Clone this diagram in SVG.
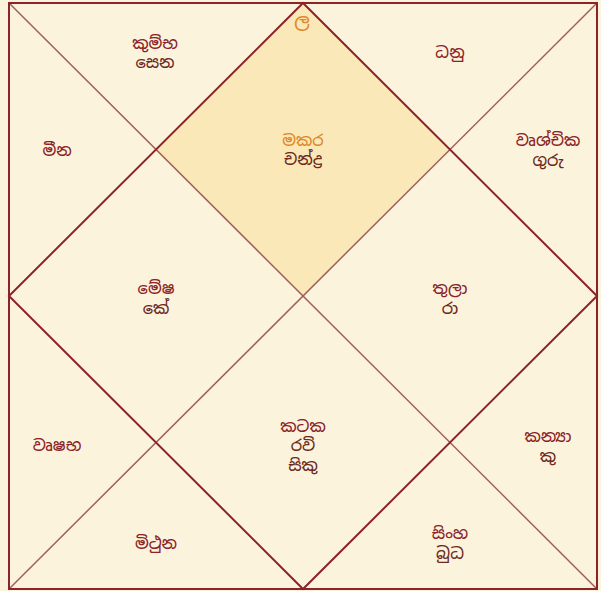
<svg xmlns="http://www.w3.org/2000/svg" width="601" height="591" viewBox="0 0 601 591">
<style>
.bg{fill:#fcf3dd}
.hl{fill:#fae8b8}
.main{stroke:#8b2328;stroke-width:2;fill:none}
.diag{stroke:#a0605a;stroke-width:1.5;fill:none}
text{font-family:"Noto Sans Sinhala","Noto Serif Sinhala","Noto Sans",sans-serif;font-size:16px;text-anchor:middle;dominant-baseline:central;fill:#8b2328;font-weight:500}
.sign{fill:#8b2328}
.sel{fill:#e0892a}
.lg{font-size:18px}
.planet{fill:#6b2a1c}
</style>
<rect class="bg" x="0" y="0" width="601" height="591"/>
<g id="house-highlight">
<polygon class="hl" points="303,3 450,149.5 303,296 156,149.5"/>
</g>
<g id="connectors">
<line class="diag" x1="9" y1="3" x2="597" y2="589"/>
<line class="diag" x1="597" y1="3" x2="9" y2="589"/>
<polygon class="main" points="303,3 597,296 303,589 9,296"/>
<rect class="main" x="9" y="3" width="588" height="586"/>
</g>
<g id="lagna"><text class="sel lg" x="302" y="20">ල</text></g>
<g id="h12"><text class="sign" x="155" y="43">කුම්භ</text><text class="planet" x="155" y="62">සෙන</text></g>
<g id="h11"><text class="sign" x="450" y="52">ධනු</text></g>
<g id="h1"><text class="sel" x="303" y="140">මකර</text><text class="planet" x="303" y="159">චන්ද්‍ර</text></g>
<g id="h2"><text class="sign" x="57" y="150">මීන</text></g>
<g id="h10"><text class="sign" x="548" y="140">වෘශ්චික</text><text class="planet" x="548" y="160">ගුරු</text></g>
<g id="h3"><text class="sign" x="156" y="288">මේෂ</text><text class="planet" x="156" y="308">කේ</text></g>
<g id="h9"><text class="sign" x="450" y="288">තුලා</text><text class="planet" x="450" y="308">රා</text></g>
<g id="h4"><text class="sign" x="57" y="445">වෘෂභ</text></g>
<g id="h7"><text class="sign" x="303" y="426">කටක</text><text class="planet" x="303" y="445">රවි</text><text class="planet" x="303" y="465">සිකු</text></g>
<g id="h8"><text class="sign" x="548" y="436">කන්‍යා</text><text class="planet" x="548" y="456">කු</text></g>
<g id="h5"><text class="sign" x="156" y="543">මිථුන</text></g>
<g id="h6"><text class="sign" x="450" y="533">සිංහ</text><text class="planet" x="450" y="553">බුධ</text></g>
</svg>
